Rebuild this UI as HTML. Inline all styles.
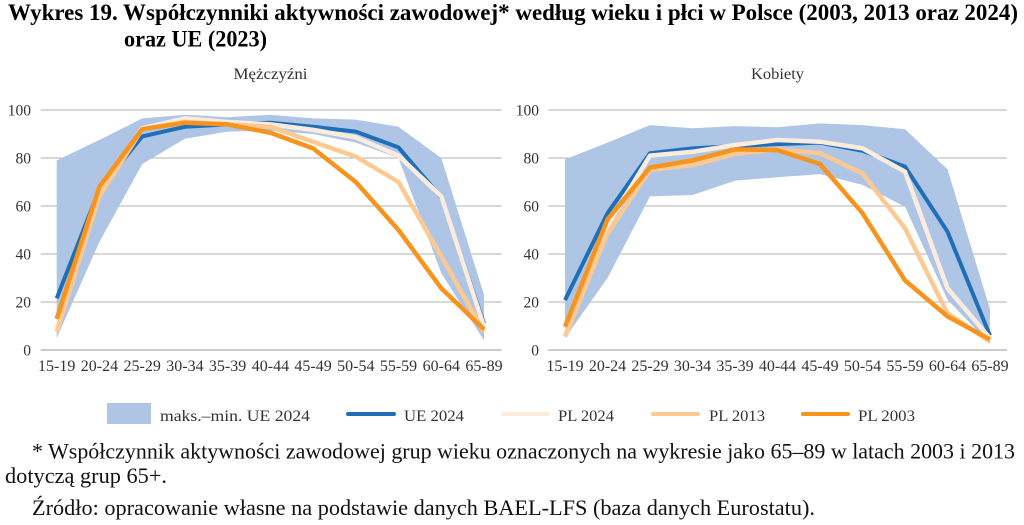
<!DOCTYPE html>
<html>
<head>
<meta charset="utf-8">
<style>
html,body{margin:0;padding:0;background:#fff;}
svg{display:block;}
</style>
</head>
<body>
<svg width="1024" height="525" viewBox="0 0 1024 525" xmlns="http://www.w3.org/2000/svg">
<rect width="1024" height="525" fill="#fff"/>
<!-- Title -->
<g font-family="'Liberation Serif', serif" font-weight="bold" fill="#000" font-size="23">
<text x="8" y="20" textLength="1010" lengthAdjust="spacingAndGlyphs">Wykres 19. Współczynniki aktywności zawodowej* według wieku i płci w Polsce (2003, 2013 oraz 2024)</text>
<text x="124" y="46.5" textLength="143" lengthAdjust="spacingAndGlyphs">oraz UE (2023)</text>
</g>

<!-- Subtitles -->
<g font-family="'Liberation Serif', serif" fill="#333" font-size="16">
<text x="233.5" y="79" textLength="74" lengthAdjust="spacingAndGlyphs">Mężczyźni</text>
<text x="751" y="79" textLength="53" lengthAdjust="spacingAndGlyphs">Kobiety</text>
</g>

<!-- Gridlines -->
<g stroke="#b3b3b3" stroke-width="1">
<line x1="40.7" y1="110" x2="501.7" y2="110"/>
<line x1="40.7" y1="158" x2="501.7" y2="158"/>
<line x1="40.7" y1="206" x2="501.7" y2="206"/>
<line x1="40.7" y1="254" x2="501.7" y2="254"/>
<line x1="40.7" y1="302" x2="501.7" y2="302"/>
<line x1="40.7" y1="350" x2="501.7" y2="350" stroke="#999"/>
<line x1="548.3" y1="110" x2="1007" y2="110"/>
<line x1="548.3" y1="158" x2="1007" y2="158"/>
<line x1="548.3" y1="206" x2="1007" y2="206"/>
<line x1="548.3" y1="254" x2="1007" y2="254"/>
<line x1="548.3" y1="302" x2="1007" y2="302"/>
<line x1="548.3" y1="350" x2="1007" y2="350" stroke="#999"/>
</g>

<!-- Y labels -->
<g font-family="'Liberation Serif', serif" fill="#333" font-size="15.5" text-anchor="end">
<text x="31" y="115.5">100</text>
<text x="31" y="163.5">80</text>
<text x="31" y="211.5">60</text>
<text x="31" y="259.5">40</text>
<text x="31" y="307.5">20</text>
<text x="31" y="355.5">0</text>
<text x="539" y="115.5">100</text>
<text x="539" y="163.5">80</text>
<text x="539" y="211.5">60</text>
<text x="539" y="259.5">40</text>
<text x="539" y="307.5">20</text>
<text x="539" y="355.5">0</text>
</g>

<!-- X labels -->
<g font-family="'Liberation Serif', serif" fill="#333" font-size="16" text-anchor="middle">
<text x="56.7" y="371">15-19</text>
<text x="99.4" y="371">20-24</text>
<text x="142.2" y="371">25-29</text>
<text x="184.9" y="371">30-34</text>
<text x="227.6" y="371">35-39</text>
<text x="270.4" y="371">40-44</text>
<text x="313.1" y="371">45-49</text>
<text x="355.8" y="371">50-54</text>
<text x="398.5" y="371">55-59</text>
<text x="441.3" y="371">60-64</text>
<text x="484" y="371">65-89</text>
<text x="565" y="371">15-19</text>
<text x="607.5" y="371">20-24</text>
<text x="650" y="371">25-29</text>
<text x="692.5" y="371">30-34</text>
<text x="735" y="371">35-39</text>
<text x="777.5" y="371">40-44</text>
<text x="820" y="371">45-49</text>
<text x="862.5" y="371">50-54</text>
<text x="905" y="371">55-59</text>
<text x="947.5" y="371">60-64</text>
<text x="990" y="371">65-89</text>
</g>

<!-- LEFT CHART (Men) -->
<polygon fill="#aec5e6" points="56.7,160.4 99.4,140 142.2,118.4 184.9,114.8 227.6,117.2 270.4,114.8 313.1,118.4 355.8,119.6 398.5,126.8 441.3,158 484,294.8 484,340.4 441.3,273.2 398.5,158 355.8,142.6 313.1,134 270.4,130.6 227.6,131.6 184.9,138.8 142.2,164 99.4,242 56.7,338"/>
<g fill="none" stroke-linejoin="round" stroke-linecap="butt">
<polyline stroke="#1f6fb8" stroke-width="4" points="56.7,298.4 99.4,189.2 142.2,136.4 184.9,126.8 227.6,124.4 270.4,122.7 313.1,126.8 355.8,131.6 398.5,147.4 441.3,197.4 484,323.6"/>
<polyline stroke="#fcecde" stroke-width="4.5" points="56.7,328 99.4,194 142.2,128.2 184.9,118.4 227.6,122 270.4,124.4 313.1,129.9 355.8,137.4 398.5,155.6 441.3,196.4 484,326.7"/>
<polyline stroke="#fcc993" stroke-width="4.5" points="56.7,331.8 99.4,196.4 142.2,129.2 184.9,122 227.6,124.4 270.4,126.8 313.1,141.7 355.8,156.6 398.5,182 441.3,256.4 484,331.8"/>
<polyline stroke="#f7941e" stroke-width="4.5" points="56.7,318.8 99.4,186.8 142.2,129.2 184.9,122.7 227.6,124.4 270.4,132.8 313.1,148.4 355.8,182 398.5,230 441.3,288.3 484,329.4"/>
</g>

<!-- RIGHT CHART (Women) -->
<polygon fill="#aec5e6" points="565,159.4 607.5,142.6 650,125.1 692.5,128.2 735,126.1 777.5,127.3 820,123.4 862.5,125.1 905,129.2 947.5,169.3 990,309.2 990,344 947.5,299.6 905,206.7 862.5,184.9 820,174.1 777.5,177.2 735,180.8 692.5,195 650,196.4 607.5,278 565,338"/>
<g fill="none" stroke-linejoin="round" stroke-linecap="butt">
<polyline stroke="#1f6fb8" stroke-width="4" points="565,300.1 607.5,213.2 650,153.2 692.5,148.4 735,146 777.5,144.1 820,142.6 862.5,150.8 905,166.6 947.5,231.7 990,335.6"/>
<polyline stroke="#fcecde" stroke-width="4.5" points="565,335.6 607.5,225.2 650,155.6 692.5,151.8 735,145 777.5,140 820,141.7 862.5,148.4 905,171.7 947.5,288.3 990,338.2"/>
<polyline stroke="#fcc993" stroke-width="4.5" points="565,336.6 607.5,233.4 650,170 692.5,165.2 735,153.9 777.5,149.4 820,153.2 862.5,173.4 905,228.3 947.5,313.3 990,341.6"/>
<polyline stroke="#f7941e" stroke-width="4.5" points="565,326.7 607.5,219.4 650,167.6 692.5,160.4 735,149.4 777.5,150.1 820,164 862.5,213.2 905,280.4 947.5,316.4 990,339.4"/>
</g>

<!-- Legend -->
<rect x="107" y="403" width="44" height="21" fill="#aec5e6"/>
<g stroke-width="4" stroke-linecap="round">
<line x1="348" y1="414" x2="394" y2="414" stroke="#1f6fb8"/>
<line x1="503" y1="414" x2="548" y2="414" stroke="#fcecde"/>
<line x1="653" y1="414" x2="698" y2="414" stroke="#fcc993"/>
<line x1="803" y1="414" x2="848" y2="414" stroke="#f7941e"/>
</g>
<g font-family="'Liberation Serif', serif" fill="#333" font-size="16">
<text x="160" y="421" textLength="150" lengthAdjust="spacingAndGlyphs">maks.–min. UE 2024</text>
<text x="404" y="421" textLength="60" lengthAdjust="spacingAndGlyphs">UE 2024</text>
<text x="558" y="421" textLength="56" lengthAdjust="spacingAndGlyphs">PL 2024</text>
<text x="709" y="421" textLength="56" lengthAdjust="spacingAndGlyphs">PL 2013</text>
<text x="858" y="421" textLength="57" lengthAdjust="spacingAndGlyphs">PL 2003</text>
</g>

<!-- Footnotes -->
<g font-family="'Liberation Serif', serif" fill="#111" font-size="22">
<text x="32" y="458.5" textLength="983" lengthAdjust="spacingAndGlyphs">* Współczynnik aktywności zawodowej grup wieku oznaczonych na wykresie jako 65–89 w latach 2003 i 2013</text>
<text x="5" y="483" textLength="162" lengthAdjust="spacingAndGlyphs">dotyczą grup 65+.</text>
<text x="32" y="515" textLength="783" lengthAdjust="spacingAndGlyphs">Źródło: opracowanie własne na podstawie danych BAEL-LFS (baza danych Eurostatu).</text>
</g>
</svg>
</body>
</html>
